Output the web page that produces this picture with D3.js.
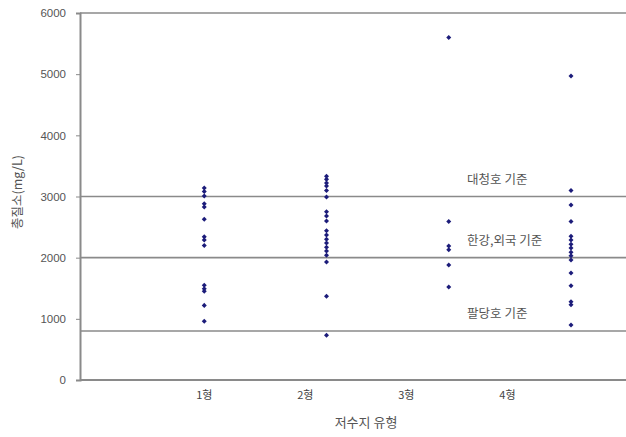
<!DOCTYPE html>
<html>
<head>
<meta charset="utf-8">
<script src="https://cdn.jsdelivr.net/npm/d3@7"></script>
<style>
  html, body { margin: 0; padding: 0; background: #fff; }
  svg { display: block; }
</style>
</head>
<body>
<svg id="chart" width="626" height="437"></svg>
<script>
// Reservoir types and total nitrogen measurements per type
const categories = ["1형", "2형", "3형", "4형"];
const type1 = [3140, 3080, 3010, 2880, 2830, 2630, 2340, 2290, 2200, 1550, 1490, 1450, 1220, 960];
const type2 = [3330, 3280, 3220, 3170, 3100, 2990, 2750, 2680, 2600, 2440, 2370, 2300, 2240, 2170, 2110, 2040, 1930, 1370, 730];
const type3 = [5600, 2590, 2190, 2130, 1880, 1520];
const type4 = [4970, 3100, 2860, 2590, 2350, 2290, 2220, 2160, 2090, 2030, 1960, 1750, 1540, 1280, 1230, 900];
const seriesValues = [type1, type2, type3, type4];

// Reference standards drawn as horizontal lines
const refValues = [3000, 2000, 800];
const refLabels = ["대청호 기준", "한강,외국 기준", "팔당호 기준"];

const yTicks = [0, 1000, 2000, 3000, 4000, 5000, 6000];
const yTitle = "총질소(mg/L)";
const xTitle = "저수지 유형";

const svg = d3.select("#chart");
const plot = { left: 80, top: 13, bottom: 380, right: 626 };

const y = d3.scaleLinear().domain([0, 6000]).range([plot.bottom, plot.top]);
const x = d3.scaleLinear().domain([0, 4.45]).range([plot.left + 2, plot.right]);
// category captions sit under the axis, spread a little tighter than the point columns
const xLabel = d3.scalePoint().domain(categories).range([x(1), x(3.48)]);

const gridColor = "#8a8a8a";
const textColor = "#555";
const markColor = "#1c1c7a";

// top border line at the axis maximum
svg.append("line")
  .attr("x1", plot.left).attr("x2", plot.right)
  .attr("y1", y(6000)).attr("y2", y(6000))
  .attr("stroke", gridColor).attr("stroke-width", 1.6);

// standard lines
svg.append("g").selectAll("line").data(refValues).join("line")
  .attr("x1", plot.left).attr("x2", plot.right)
  .attr("y1", d => y(d)).attr("y2", d => y(d))
  .attr("stroke", gridColor).attr("stroke-width", 1.6);

svg.append("g").selectAll("text").data(refValues).join("text")
  .attr("x", x(3.15))
  .attr("y", d => y(d) - 13)
  .attr("font-family", "'Noto Sans CJK KR', sans-serif")
  .attr("font-size", 12.5)
  .attr("fill", textColor)
  .text((d, i) => refLabels[i]);

// y axis
const yAxis = d3.axisLeft(y).tickValues(yTicks).tickSize(4).tickPadding(10).tickFormat(d3.format("d"));
const gy = svg.append("g").attr("transform", `translate(${plot.left},0)`).call(yAxis);
gy.select(".domain").attr("stroke", gridColor).attr("stroke-width", 2);
gy.selectAll(".tick line").attr("stroke", gridColor);
gy.selectAll(".tick text")
  .attr("font-family", "'Liberation Sans', Arial, sans-serif")
  .attr("font-size", 11.5)
  .attr("fill", textColor);

// x axis baseline
svg.append("line")
  .attr("x1", plot.left).attr("x2", plot.right)
  .attr("y1", plot.bottom).attr("y2", plot.bottom)
  .attr("stroke", gridColor).attr("stroke-width", 2.2);

// category captions
svg.append("g").selectAll("text").data(categories).join("text")
  .attr("x", d => xLabel(d))
  .attr("y", plot.bottom + 19)
  .attr("text-anchor", "middle")
  .attr("font-family", "'Noto Sans CJK KR', sans-serif")
  .attr("font-size", 11)
  .attr("fill", "#444")
  .text(d => d);

// axis titles
svg.append("text")
  .attr("x", 366).attr("y", 427)
  .attr("text-anchor", "middle")
  .attr("font-family", "'Noto Sans CJK KR', sans-serif")
  .attr("font-size", 13)
  .attr("fill", textColor)
  .text(xTitle);

svg.append("text")
  .attr("transform", "translate(22,192) rotate(-90)")
  .attr("text-anchor", "middle")
  .attr("font-family", "'Noto Sans CJK KR', sans-serif")
  .attr("font-size", 12.5)
  .attr("fill", textColor)
  .text(yTitle);

// small diamond markers
const diamond = d3.symbol().type(d3.symbolDiamond2).size(16);
const points = seriesValues.flatMap((vals, i) => vals.map(v => ({ cat: i + 1, v })));
svg.append("g").selectAll("path").data(points).join("path")
  .attr("d", diamond)
  .attr("transform", d => `translate(${x(d.cat)},${y(d.v)})`)
  .attr("fill", markColor);
</script>
</body>
</html>
